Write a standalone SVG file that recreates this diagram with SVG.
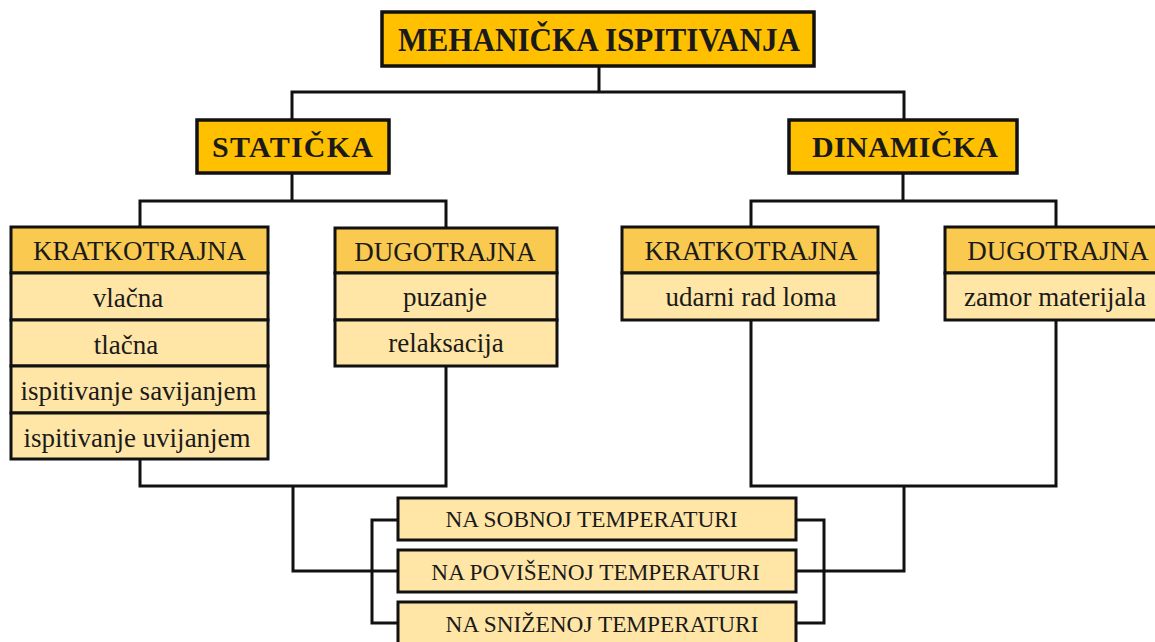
<svg xmlns="http://www.w3.org/2000/svg" width="1155" height="642" viewBox="0 0 1155 642">
<style>
.main{fill:#FFC000;stroke:#111;stroke-width:3.5}
.hdr{fill:#F9C950;stroke:#111;stroke-width:3}
.row{fill:#FFE6A6;stroke:#111;stroke-width:3}
.ln{fill:none;stroke:#111;stroke-width:3;stroke-linejoin:miter}
text{font-family:"Liberation Serif","Times New Roman",serif;fill:#1a1a1a;text-anchor:middle}
.b{font-weight:bold;font-size:30px}
.ttl{font-weight:bold;font-size:33px}
.t{font-size:27px}
.s{font-size:23.3px}
</style>
<rect width="1155" height="642" fill="#fff"/>
<g id="connectors">
<path class="ln" d="M599,66V92M292,120V92H904V120"/>
<path class="ln" d="M292,173V201M140,227V201H446V228"/>
<path class="ln" d="M903,173V201M751,227V201H1056V227"/>
<path class="ln" d="M140,459V486H446V366M293,486V571H398"/>
<path class="ln" d="M751,320V486H1056V320M904,486V571H796"/>
<path class="ln" d="M398,520H372V623H398"/>
<path class="ln" d="M796,520H824V623H796"/>
</g>
<g id="mehanicka">
<rect class="main" x="382" y="12" width="432" height="54"/>
<text class="ttl" x="599" y="51" textLength="402" lengthAdjust="spacingAndGlyphs">MEHANIČKA ISPITIVANJA</text>
</g>
<g id="staticka">
<rect class="main" x="197" y="120" width="192" height="53"/>
<text class="b" x="292.5" y="157" textLength="161" lengthAdjust="spacing">STATIČKA</text>
</g>
<g id="dinamicka">
<rect class="main" x="789" y="120" width="228" height="53"/>
<text class="b" x="905" y="157" textLength="186" lengthAdjust="spacing">DINAMIČKA</text>
</g>
<g id="staticka-kratkotrajna">
<rect class="hdr" x="11" y="227" width="257" height="46"/>
<rect class="row" x="11" y="273" width="257" height="47"/>
<rect class="row" x="11" y="320" width="257" height="46"/>
<rect class="row" x="11" y="366" width="257" height="47"/>
<rect class="row" x="11" y="413" width="257" height="46"/>
<text class="t" x="139.5" y="260">KRATKOTRAJNA</text>
<text class="t" x="128" y="307">vlačna</text>
<text class="t" x="126" y="354">tlačna</text>
<text class="t" x="138.5" y="400">ispitivanje savijanjem</text>
<text class="t" x="137" y="447">ispitivanje uvijanjem</text>
</g>
<g id="staticka-dugotrajna">
<rect class="hdr" x="335" y="228" width="222" height="45"/>
<rect class="row" x="335" y="273" width="222" height="47"/>
<rect class="row" x="335" y="320" width="222" height="46"/>
<text class="t" x="445" y="261">DUGOTRAJNA</text>
<text class="t" x="445" y="306">puzanje</text>
<text class="t" x="446" y="352">relaksacija</text>
</g>
<g id="dinamicka-kratkotrajna">
<rect class="hdr" x="622" y="227" width="256" height="46"/>
<rect class="row" x="622" y="273" width="256" height="47"/>
<text class="t" x="751" y="260">KRATKOTRAJNA</text>
<text class="t" x="751" y="306">udarni rad loma</text>
</g>
<g id="dinamicka-dugotrajna">
<rect class="hdr" x="945" y="227" width="226" height="46"/>
<rect class="row" x="945" y="273" width="226" height="47"/>
<text class="t" x="1058" y="260">DUGOTRAJNA</text>
<text class="t" x="1055" y="306">zamor materijala</text>
</g>
<g id="sobna">
<rect class="row" x="398" y="498" width="398" height="42"/>
<text class="s" x="591.5" y="527">NA SOBNOJ TEMPERATURI</text>
</g>
<g id="povisena">
<rect class="row" x="398" y="550" width="398" height="42"/>
<text class="s" x="595.5" y="580">NA POVIŠENOJ TEMPERATURI</text>
</g>
<g id="snizena">
<rect class="row" x="398" y="602" width="398" height="44"/>
<text class="s" x="602" y="632">NA SNIŽENOJ TEMPERATURI</text>
</g>
</svg>
